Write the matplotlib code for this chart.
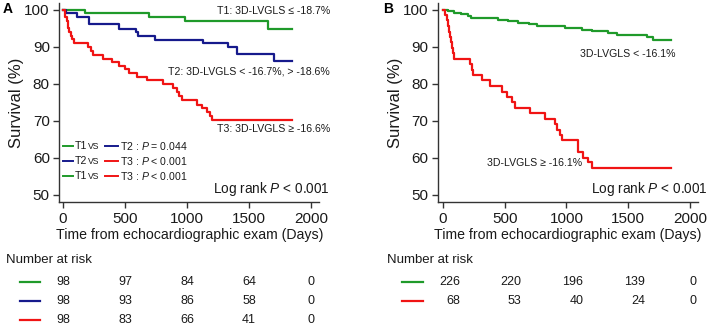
import matplotlib
matplotlib.use("Agg")
import matplotlib.pyplot as plt
from matplotlib.lines import Line2D
import matplotlib.transforms as mtransforms

plt.rcParams['font.family'] = ['Liberation Sans', 'DejaVu Sans']
plt.rcParams['mathtext.fontset'] = 'custom'
plt.rcParams['mathtext.it'] = 'Liberation Sans:italic'
plt.rcParams['mathtext.rm'] = 'Liberation Sans'

# ---------------- data ----------------
a_t1_times = [0, 177, 694, 984, 1651, 1850]
a_t1_surv = [100, 99.0, 98.0, 96.9, 94.8, 94.8]

a_t2_times = [0, 24, 116, 212, 452, 589, 605, 742, 1130, 1331, 1400, 1702, 1850]
a_t2_surv = [100, 99.0, 98.0, 96.0, 94.9, 94.0, 93.0, 91.9, 90.9, 89.9, 88.0, 86.1, 86.1]

a_t3_times = [0, 20, 30, 40, 50, 62, 70, 89, 204, 223, 245, 325, 392, 452, 500, 535,
              594, 675, 809, 890, 917, 935, 962, 1078, 1124, 1159, 1185, 1204, 1850]
a_t3_surv = [100, 98.0, 97.0, 95.0, 94.0, 93.0, 92.0, 91.0, 89.9, 88.8, 87.8, 86.8, 85.9,
             84.9, 83.9, 82.9, 81.9, 80.9, 79.9, 78.8, 77.8, 76.6, 75.5, 74.4, 73.4, 72.3,
             71.2, 70.2, 70.2]

b_lo_times = [0, 38, 92, 146, 205, 227, 448, 529, 610, 700, 760, 988, 1123, 1204, 1339,
              1406, 1649, 1703, 1850]
b_lo_surv = [100, 99.6, 99.1, 98.7, 98.2, 97.8, 97.3, 96.9, 96.4, 96.0, 95.5, 95.1, 94.6,
             94.2, 93.7, 93.2, 92.6, 91.7, 91.7]

b_hi_times = [0, 16, 30, 43, 50, 57, 65, 70, 80, 92, 219, 232, 246, 313, 381, 475, 516,
              556, 583, 704, 826, 907, 920, 947, 961, 1096, 1137, 1175, 1204, 1846]
b_hi_surv = [100, 98.5, 97.1, 95.6, 94.1, 92.6, 91.2, 89.7, 88.2, 86.8, 85.3, 83.8, 82.3,
             80.9, 79.4, 77.9, 76.5, 75.0, 73.5, 72.1, 70.6, 69.1, 67.6, 66.1, 64.7, 61.6,
             60.0, 58.8, 57.4, 57.4]

risk_times = [0, 500, 1000, 1500, 2000]
a_risk_t1 = [98, 97, 84, 64, 0]
a_risk_t2 = [98, 93, 86, 58, 0]
a_risk_t3 = [98, 83, 66, 41, 0]
b_risk_lo = [226, 220, 196, 139, 0]
b_risk_hi = [68, 53, 40, 24, 0]

x_ticks = [0, 500, 1000, 1500, 2000]
y_ticks = [50, 60, 70, 80, 90, 100]

GREEN = '#1f9a2a'
BLUE = '#161a8c'
RED = '#f01414'
SPINE = '#333333'

W, H = 709, 326
fig = plt.figure(figsize=(W / 100, H / 100), dpi=100)

def px_axes(l, r, t, b):
    return fig.add_axes([l / W, 1 - b / H, (r - l) / W, (b - t) / H])

axA = px_axes(59.5, 319, 3, 202)
axB = px_axes(438, 698, 3, 202)

def style(ax, xlim):
    ax.set_xlim(*xlim)
    ax.set_ylim(48.1, 101.8)
    ax.set_xticks(x_ticks)
    ax.set_yticks(y_ticks)
    for s in ['top', 'right']:
        ax.spines[s].set_visible(False)
    for s in ['left', 'bottom']:
        ax.spines[s].set_color(SPINE)
        ax.spines[s].set_linewidth(1.0)
    ax.tick_params(direction='out', length=4, width=1.0, color=SPINE,
                   labelsize=11, labelcolor='#1a1a1a', pad=3)
    ax.set_ylabel('Survival (%)', fontsize=12, color='#1a1a1a', labelpad=0)
    ax.set_xlabel('Time from echocardiographic exam (Days)', fontsize=10.2,
                  color='#1a1a1a', labelpad=2)

style(axA, (-28, 2065))
style(axB, (-40, 2065))

lw = 1.6
axA.step(a_t1_times, a_t1_surv, where='post', color=GREEN, lw=lw, clip_on=False)
axA.step(a_t2_times, a_t2_surv, where='post', color=BLUE, lw=lw, clip_on=False)
axA.step(a_t3_times, a_t3_surv, where='post', color=RED, lw=lw, clip_on=False)
axB.step(b_lo_times, b_lo_surv, where='post', color=GREEN, lw=lw, clip_on=False)
axB.step(b_hi_times, b_hi_surv, where='post', color=RED, lw=lw, clip_on=False)

# curve labels
lab = dict(fontsize=7.6, color='#1a1a1a', ha='right', va='center')
axA.text(1.042, 0.96, 'T1: 3D-LVGLS ≤ -18.7%', transform=axA.transAxes, **lab)
axA.text(1.042, 0.658, 'T2: 3D-LVGLS < -16.7%, > -18.6%', transform=axA.transAxes, **lab)
axA.text(1.042, 0.367, 'T3: 3D-LVGLS ≥ -16.6%', transform=axA.transAxes, **lab)
axB.text(0.915, 0.744, '3D-LVGLS < -16.1%', transform=axB.transAxes, **lab)
axB.text(0.554, 0.196, '3D-LVGLS ≥ -16.1%', transform=axB.transAxes, **lab)

axA.text(1.042, 0.065, 'Log rank $P$ < 0.001', transform=axA.transAxes,
         fontsize=9.8, ha='right', va='center', color='#1a1a1a')
axB.text(1.038, 0.065, 'Log rank $P$ < 0.001', transform=axB.transAxes,
         fontsize=9.8, ha='right', va='center', color='#1a1a1a')

# custom pairwise legend in panel A
def fx(px):  # figure px -> fraction
    return px / W
def fy(py):
    return 1 - py / H

legend_rows = [
    (146, GREEN, 'T1', BLUE, 'T2 : $P$ = 0.044'),
    (161, BLUE, 'T2', RED, 'T3 : $P$ < 0.001'),
    (176, GREEN, 'T1', RED, 'T3 : $P$ < 0.001'),
]
for py, c1, t1, c2, t2 in legend_rows:
    fig.add_artist(Line2D([fx(63), fx(73)], [fy(py), fy(py)], color=c1, lw=1.4))
    fig.text(fx(75), fy(py), t1, fontsize=7.6, va='center', color='#1a1a1a')
    fig.text(fx(88), fy(py + 0.5), 'VS', fontsize=6.2, va='center', color='#1a1a1a')
    fig.add_artist(Line2D([fx(105), fx(118)], [fy(py), fy(py)], color=c2, lw=1.4))
    fig.text(fx(120), fy(py), t2, fontsize=7.6, va='center', color='#1a1a1a')

# panel letters
fig.text(fx(3), fy(9), 'A', fontsize=10, fontweight='bold', va='center')
fig.text(fx(383), fy(9), 'B', fontsize=10, fontweight='bold', va='center')

# number at risk tables
fig.text(fx(6), fy(260), 'Number at risk', fontsize=9.5, va='center', color='#1a1a1a')
fig.text(fx(387), fy(260), 'Number at risk', fontsize=9.5, va='center', color='#1a1a1a')

transA = mtransforms.blended_transform_factory(axA.transData, fig.transFigure)
for py, col, vals in [(282, GREEN, a_risk_t1), (301, BLUE, a_risk_t2), (320, RED, a_risk_t3)]:
    fig.add_artist(Line2D([fx(20), fx(40)], [fy(py), fy(py)], color=col, lw=1.6))
    for t, v in zip(risk_times, vals):
        fig.text(t, fy(py), str(v), transform=transA, fontsize=9, ha='center',
                 va='center', color='#1a1a1a')

transB = mtransforms.blended_transform_factory(axB.transData, fig.transFigure)
for py, col, vals in [(282, GREEN, b_risk_lo), (301, RED, b_risk_hi)]:
    fig.add_artist(Line2D([fx(402), fx(423)], [fy(py), fy(py)], color=col, lw=1.6))
    for t, v in zip(risk_times, vals):
        if v == 0:
            tr = transB + mtransforms.ScaledTranslation(3 / 100, 0, fig.dpi_scale_trans)
            fig.text(t, fy(py), str(v), transform=tr, fontsize=9, ha='center',
                     va='center', color='#1a1a1a')
        else:
            tr = transB + mtransforms.ScaledTranslation(17 / 100, 0, fig.dpi_scale_trans)
            fig.text(t, fy(py), str(v), transform=tr, fontsize=9, ha='right',
                     va='center', color='#1a1a1a')

fig.savefig('out.png', dpi=100)
